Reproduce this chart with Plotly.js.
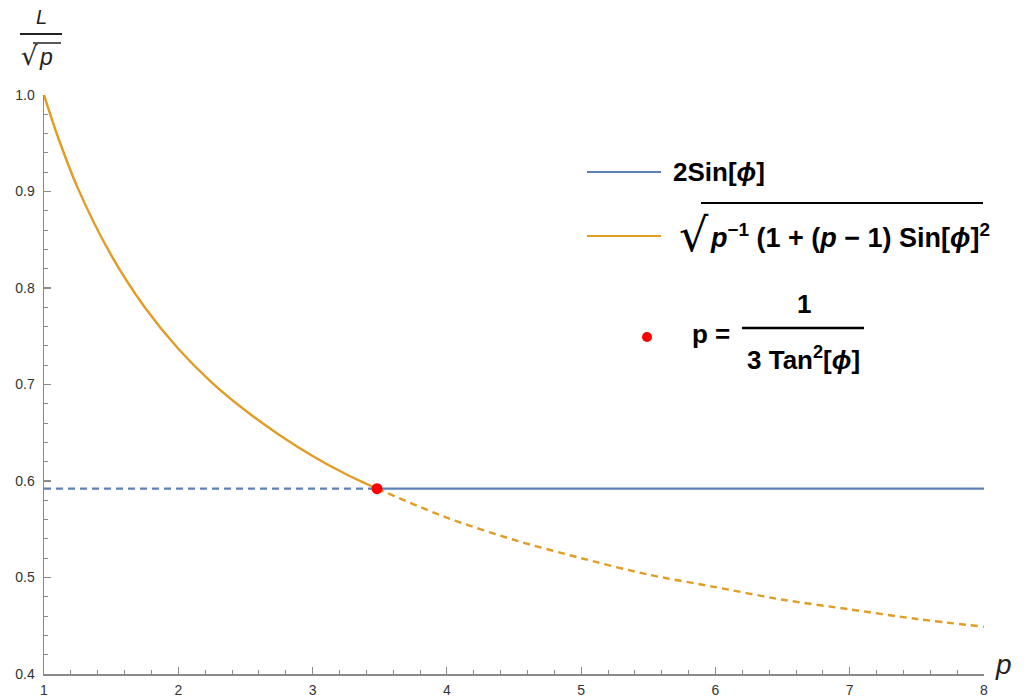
<!DOCTYPE html>
<html>
<head>
<meta charset="utf-8">
<script src="https://cdn.plot.ly/plotly-3.0.1.min.js"></script>
<style>html,body{margin:0;padding:0;background:#fff;}#chart{width:1024px;height:699px;}</style>
</head>
<body>
<div id="chart"></div>
<script>
// ---- data ----
var blueLevel = 0.592;          // 2 Sin[phi]
var pStar = 3.48;               // p = 1/(3 Tan^2[phi])
var pSolid = [1, 1.1, 1.25, 1.5, 1.75, 2, 2.25, 2.5, 2.75, 3, 3.25, 3.48];
var LSolid = [1.000, 0.958, 0.904, 0.834, 0.780, 0.737, 0.702, 0.673, 0.648, 0.626, 0.607, 0.592];
var pDashed = [3.48, 4, 4.5, 5, 5.5, 6, 6.5, 7, 7.5, 8];
var LDashed = [0.592, 0.562, 0.539, 0.520, 0.503, 0.490, 0.477, 0.467, 0.457, 0.449];
var xTicks = [1, 2, 3, 4, 5, 6, 7, 8];
var yTicks = [0.4, 0.5, 0.6, 0.7, 0.8, 0.9, 1.0];

var BLUE = '#5E81B5', ORANGE = '#E19C24', RED = '#FF0000';
var W = 1024, H = 699, L = 44, R = 40, T = 95, B = 25;
function px(x){ return (x - L) / (W - L - R); }
function py(y){ return (H - B - y) / (H - T - B); }

var traces = [
  {x: [1, pStar], y: [blueLevel, blueLevel], mode: 'lines', line: {color: BLUE, width: 2.2, dash: '7px,5px'}, cliponaxis: false},
  {x: [pStar, 8], y: [blueLevel, blueLevel], mode: 'lines', line: {color: BLUE, width: 2.2}, cliponaxis: false},
  {x: pSolid, y: LSolid, mode: 'lines', line: {color: ORANGE, width: 2.4, shape: 'spline', smoothing: 0.8}, cliponaxis: false},
  {x: pDashed, y: LDashed, mode: 'lines', line: {color: ORANGE, width: 2.4, dash: '7px,5px', shape: 'spline', smoothing: 0.8}, cliponaxis: false},
  {x: [pStar], y: [blueLevel], mode: 'markers', marker: {color: RED, size: 11}, cliponaxis: false}
];

var FAM = 'Liberation Sans, Arial, sans-serif';
var txtFont = {family: FAM, size: 26, color: '#000'};
function ann(x, y, text, opts){
  var a = {xref: 'paper', yref: 'paper', x: px(x), y: py(y), text: text, showarrow: false,
           xanchor: 'left', yanchor: 'middle', font: txtFont};
  for (var k in opts) a[k] = opts[k];
  return a;
}
function hline(x0, x1, y, color, width){
  return {type: 'line', xref: 'paper', yref: 'paper', x0: px(x0), x1: px(x1), y0: py(y), y1: py(y),
          line: {color: color, width: width}};
}

var annotations = [
  // y-axis title  L / sqrt(p)
  ann(41, 17, '<i>L</i>', {xanchor: 'center', font: {family: FAM, size: 20, color: '#222'}}),
  ann(29, 56, '√', {xanchor: 'center', font: {family: 'DejaVu Sans, sans-serif', size: 26, color: '#222'}}),
  ann(46, 57, '<i>p</i>', {xanchor: 'center', font: {family: FAM, size: 23, color: '#222'}}),
  // x-axis title
  ann(1004, 664, '<i>p</i>', {xanchor: 'center', font: {family: FAM, size: 28, color: '#222'}}),
  // legend texts
  ann(671, 172, '<b>2Sin[<i>ϕ</i>]</b>'),
  ann(677, 235, '√', {font: {family: 'DejaVu Sans, sans-serif', size: 46, color: '#000'}}),
  ann(708, 236, '<b><i>p</i><sup>−1</sup> (1 + (<i>p</i> − 1) Sin[<i>ϕ</i>]<sup>2</sup></b>', {font: {family: FAM, size: 27, color: '#000'}}),
  ann(690, 334, '<b>p =</b>'),
  ann(804, 304, '<b>1</b>', {xanchor: 'center'}),
  ann(803, 358, '<b>3 Tan<sup>2</sup>[<i>ϕ</i>]</b>', {xanchor: 'center'})
];

var shapes = [
  hline(20, 62, 34, '#222', 1.8),
  hline(33, 61, 43, '#222', 1.5),
  hline(587, 661, 172, BLUE, 2.2),
  hline(587, 661, 236, ORANGE, 2.2),
  hline(701, 983, 203, '#000', 2),
  hline(742, 864, 328, '#000', 2.5),
  {type: 'circle', xref: 'paper', yref: 'paper', x0: px(642), x1: px(652), y0: py(332), y1: py(342),
   fillcolor: RED, line: {color: RED, width: 0}}
];

var axisCommon = {
  showgrid: false, zeroline: false, showline: true, linecolor: '#8a8a8a', linewidth: 1.5,
  ticks: 'inside', ticklen: 7, tickwidth: 1.2, tickcolor: '#8a8a8a',
  tickfont: {family: FAM, size: 14, color: '#333'}
};

var layout = {
  width: W, height: H,
  margin: {l: L, r: R, t: T, b: B, pad: 0},
  paper_bgcolor: '#fff', plot_bgcolor: '#fff',
  showlegend: false,
  xaxis: Object.assign({}, axisCommon, {range: [1, 8], tickvals: xTicks, ticktext: xTicks.map(String),
    ticklabelstandoff: 3,
    minor: {dtick: 0.2, ticks: 'inside', ticklen: 4, tickcolor: '#8a8a8a', tickwidth: 1}}),
  yaxis: Object.assign({}, axisCommon, {range: [0.4, 1.0], tickvals: yTicks, ticktext: yTicks.map(function(v){return v.toFixed(1);}),
    ticklabelstandoff: 5,
    minor: {dtick: 0.02, ticks: 'inside', ticklen: 4, tickcolor: '#8a8a8a', tickwidth: 1}}),
  annotations: annotations,
  shapes: shapes
};

Plotly.newPlot('chart', traces, layout, {staticPlot: true, displayModeBar: false});
</script>
</body>
</html>
